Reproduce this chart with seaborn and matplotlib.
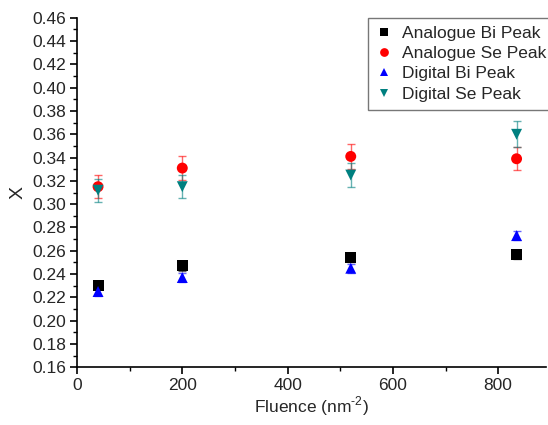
import numpy as np
import pandas as pd
import matplotlib
matplotlib.use("Agg")
import matplotlib.pyplot as plt
import seaborn as sns
from matplotlib.ticker import MultipleLocator

# fluence values and peak ratios
fluence = [40, 200, 520, 835]
series = ["Analogue Bi Peak", "Analogue Se Peak", "Digital Bi Peak", "Digital Se Peak"]
analogue_bi = [0.230, 0.247, 0.254, 0.257]
analogue_bi_err = [0.003, 0.004, 0.004, 0.004]
analogue_se = [0.315, 0.331, 0.341, 0.339]
analogue_se_err = [0.010, 0.010, 0.011, 0.010]
digital_bi = [0.225, 0.237, 0.245, 0.273]
digital_bi_err = [0.004, 0.004, 0.004, 0.004]
digital_se = [0.312, 0.315, 0.325, 0.360]
digital_se_err = [0.010, 0.010, 0.010, 0.011]

colors = ["#000000", "#ff0000", "#0000ff", "#008080"]
markers = ["s", "o", "^", "v"]

values = [analogue_bi, analogue_se, digital_bi, digital_se]
errors = [analogue_bi_err, analogue_se_err, digital_bi_err, digital_se_err]
df = pd.DataFrame({
    "fluence": fluence * 4,
    "X": sum(values, []),
    "err": sum(errors, []),
    "series": np.repeat(series, 4),
})

sns.set_style("ticks")
plt.rcParams["font.family"] = ["Liberation Sans", "DejaVu Sans"]
plt.rcParams["mathtext.fontset"] = "custom"
plt.rcParams["mathtext.rm"] = "Liberation Sans"

fig = plt.figure(figsize=(5.48, 4.25), dpi=100)
ax = fig.add_axes([0.1405, 0.136, 0.855, 0.822])

# error bars first, lighter, behind the markers
for name, c in zip(series, colors):
    d = df[df.series == name]
    ax.errorbar(d.fluence, d.X, yerr=d.err, fmt="none", ecolor=c, alpha=0.6,
                elinewidth=1.0, capsize=3, capthick=1.0, zorder=1)

sns.scatterplot(data=df, x="fluence", y="X", hue="series", style="series",
                hue_order=series, style_order=series,
                palette=colors, markers=markers, s=62, linewidth=0,
                ax=ax, zorder=3)

ax.set_xlim(0, 890)
ax.set_ylim(0.16, 0.46)
ax.xaxis.set_major_locator(MultipleLocator(200))
ax.xaxis.set_minor_locator(MultipleLocator(100))
ax.yaxis.set_major_locator(MultipleLocator(0.02))
ax.yaxis.set_minor_locator(MultipleLocator(0.01))
ax.yaxis.set_major_formatter(matplotlib.ticker.FormatStrFormatter("%.2f"))
ax.tick_params(which="major", length=5, width=1.2, labelsize=12.5, color="black", pad=3)
ax.tick_params(which="minor", length=3, width=1.0, color="black")
sns.despine(ax=ax)
for s in ["left", "bottom"]:
    ax.spines[s].set_linewidth(1.2)
    ax.spines[s].set_color("black")

ax.set_xlabel("Fluence (nm$^{\\mathrm{\\text{-}2}}$)", fontsize=12.5, labelpad=1)
ax.set_ylabel("X", fontsize=14, labelpad=4)

leg = ax.legend(loc="upper right", bbox_to_anchor=(1.036, 1.025), fontsize=12.5,
                frameon=True, fancybox=False, edgecolor="#555555",
                handletextpad=0.5, borderpad=0.45, borderaxespad=0.5,
                labelspacing=0.3, markerscale=0.8, handlelength=1.0)
leg.get_frame().set_linewidth(1.0)

fig.savefig("out.png", dpi=100)
